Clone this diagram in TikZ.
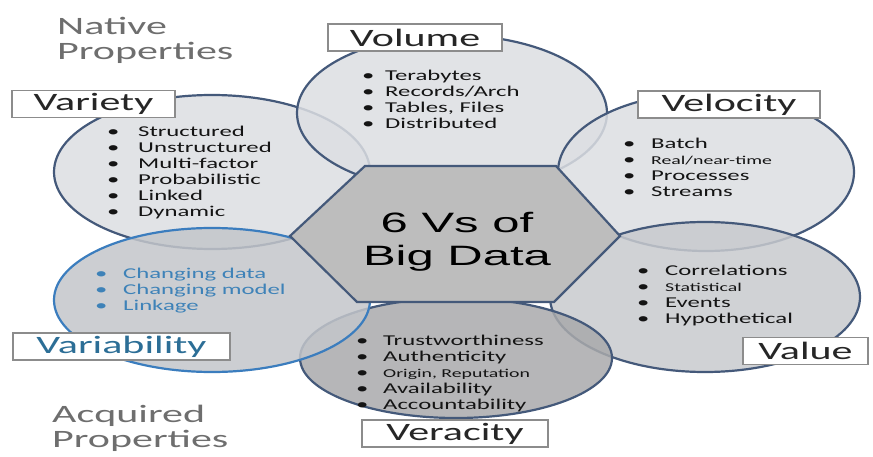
\documentclass[tikz,border=0pt]{standalone}
\usepackage{fontspec}
\setmainfont{Carlito}
\newfontfamily\headfont[FakeStretch=1.68]{Carlito}
\newfontfamily\listfont[FakeStretch=1.65]{Carlito}
\newfontfamily\hubfont[FakeStretch=1.75]{Liberation Sans}
\usetikzlibrary{shapes.geometric}

\definecolor{rim}{HTML}{44597A}
\definecolor{lightfill}{HTML}{DCDEE2}
\definecolor{midfill}{HTML}{C8CACE}
\definecolor{bluefill}{HTML}{C3C6CA}
\definecolor{darkfill}{HTML}{A9A9AB}
\definecolor{hexfill}{HTML}{BDBDBD}
\definecolor{boxgray}{HTML}{8C8C8C}
\definecolor{vblue}{HTML}{3B7DBE}
\definecolor{vtext}{HTML}{2C6E96}
\definecolor{ltext}{HTML}{3E82B8}
\definecolor{greytext}{HTML}{6E6E6E}

\newcommand{\vbul}[1][28pt]{\makebox[#1][l]{\textbullet}}

\tikzset{
  vcircle/.style={ellipse,draw=rim,line width=2.2pt,fill=lightfill,fill opacity=0.85,inner sep=0pt},
  vlabel/.style={draw=boxgray,fill=white,line width=1.2pt,minimum height=27pt,inner sep=0pt,
    font=\headfont\fontsize{25}{25}\selectfont,text=black!85},
  vlist/.style={anchor=north west,inner sep=0pt,align=left,
    font=\listfont\fontsize{15}{16}\selectfont,text=black!92},
  side/.style={anchor=north west,inner sep=0pt,align=left,
    font=\headfont\fontsize{25}{25}\selectfont,text=greytext},
}

\begin{document}
\begin{tikzpicture}[x=1pt,y=-1pt]
\useasboundingbox (0,0) rectangle (873,457);
% the six property ellipses
\node[vcircle,minimum width=316pt,minimum height=154pt](variety)at(212,172){};
\node[vcircle,minimum width=310pt,minimum height=156pt](volume)at(452,113){};
\node[vcircle,minimum width=296pt,minimum height=158pt](velocity)at(706,172){};
\node[vcircle,fill=midfill,minimum width=310pt,minimum height=150pt](value)at(705,297){};
\node[vcircle,fill=darkfill,minimum width=312pt,minimum height=120pt](veracity)at(456,358){};
\node[vcircle,draw=vblue,fill=bluefill,minimum width=316pt,minimum height=144pt](variability)at(212,300){};
% hexagon in the middle
\draw[rim,line width=2.2pt,fill=hexfill](290,236)--(365,166)--(556,166)--(620,236)--(554,302)--(357,302)--cycle;
\node[align=center,inner sep=0pt,font=\hubfont\fontsize{28}{33}\selectfont](hub)at(457,242){6 Vs of\\Big Data};
% item lists
\node[vlist](volumelist)at(362,70){\vbul[23pt]Terabytes\\\vbul[23pt]Records/Arch\\\vbul[23pt]Tables, Files\\\vbul[23pt]Distributed};
\node[vlist](varietylist)at(107,126){\vbul[31pt]Structured\\\vbul[31pt]Unstructured\\\vbul[31pt]Multi-factor\\\vbul[31pt]Probabilistic\\\vbul[31pt]Linked\\\vbul[31pt]Dynamic};
\node[vlist](velocitylist)at(623,138){\vbul Batch\\\vbul{\fontsize{12}{16}\selectfont Real/near-time}\\\vbul Processes\\\vbul Streams};
\node[vlist,text=ltext](variabilitylist)at(95,268){\vbul Changing data\\\vbul Changing model\\\vbul Linkage};
\node[vlist](valuelist)at(637,265){\vbul Correlations\\\vbul{\fontsize{12}{16}\selectfont Statistical}\\\vbul Events\\\vbul Hypothetical};
\node[vlist](veracitylist)at(356,335){\vbul[27pt]Trustworthiness\\\vbul[27pt]Authenticity\\\vbul[27pt]{\fontsize{12}{16}\selectfont Origin, Reputation}\\\vbul[27pt]Availability\\\vbul[27pt]Accountability};
% label boxes
\node[vlabel,minimum width=174pt](volumebox)at(415,37.5){Volume};
\node[vlabel,minimum width=182pt](velocitybox)at(729,104.5){Velocity};
\node[vlabel,minimum width=163pt](varietybox)at(93.5,104){Variety};
\node[vlabel,minimum width=217pt,text=vtext](variabilitybox)at(121.5,346.5){Variability};
\node[vlabel,minimum width=186pt](veracitybox)at(455,433.5){Veracity};
\node[vlabel,minimum width=125pt](valuebox)at(805.5,351){Value};
% corner captions
\node[side](native)at(57,17){Native\\Properties};
\node[side](acquired)at(52,405){Acquired\\Properties};
\end{tikzpicture}
\end{document}
